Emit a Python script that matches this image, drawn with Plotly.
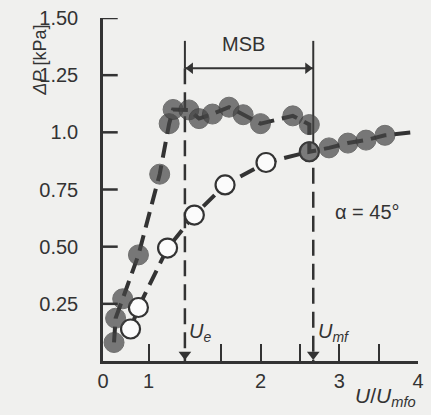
import plotly.graph_objects as go

# ---- data ----
filled_x = [0.14, 0.16, 0.25, 0.45, 0.72, 0.84, 0.89, 1.09, 1.22, 1.39, 1.60, 1.78, 2.00, 2.41, 2.62, 2.62, 2.87, 3.11, 3.34, 3.58, 3.93]
filled_y = [0.081, 0.187, 0.272, 0.464, 0.817, 1.038, 1.100, 1.098, 1.060, 1.080, 1.110, 1.077, 1.038, 1.072, 1.034, 0.915, 0.932, 0.953, 0.966, 0.987, 1.000]
filled_is_point = [True] * 20 + [False]   # last entry is only the dashed tail of the curve

open_x = [0.35, 0.45, 0.82, 1.16, 1.55, 2.07, 2.62]
open_y = [0.140, 0.234, 0.494, 0.638, 0.770, 0.868, 0.915]

U_E = 1.04      # U_e / U_mfo
U_MF = 2.67     # U_mf / U_mfo
MSB_TOP = 1.40
MSB_Y = 1.28

x_tick_vals = [0, 0.58, 2, 3, 4]
x_tick_text = ["0", "1", "2", "3", "4"]
x_minor_vals = [1.5, 2.5, 3.5]
y_tick_vals = [0.25, 0.5, 0.75, 1.0, 1.25, 1.5]
y_tick_text = ["0.25", "0.50", "0.75", "1.0", "1.25", "1.50"]

INK = "#333333"
DOT = "#454545"
BG = "#f0f0ee"
FONT = "Liberation Sans, Arial, sans-serif"
PLOT_W = 321  # px width of the plotting area (431 - 103 - 7)

fig = go.Figure()

fig.add_trace(go.Scatter(
    x=open_x, y=open_y, mode="lines+markers",
    line=dict(color=INK, width=4, dash="16px,8px"),
    marker=dict(size=19, color="#fbfbfb", line=dict(color=INK, width=2.2)),
    showlegend=False, cliponaxis=False))

fig.add_trace(go.Scatter(
    x=filled_x, y=filled_y, mode="lines+markers",
    line=dict(color=INK, width=4, dash="16px,8px"),
    marker=dict(size=[20 if p else 0 for p in filled_is_point], color=DOT,
                line=dict(color="#3a3a3a", width=1)),
    showlegend=False, cliponaxis=False))

# vertical reference lines
fig.add_shape(type="line", x0=U_E, x1=U_E, y0=MSB_Y, y1=0, layer="below",
              line=dict(color=INK, width=2.5, dash="16px,8px"))
fig.add_shape(type="line", x0=U_E, x1=U_E, y0=MSB_TOP, y1=MSB_Y, layer="below",
              line=dict(color=INK, width=2))
fig.add_shape(type="line", x0=U_MF, x1=U_MF, y0=MSB_TOP, y1=0.95, layer="below",
              line=dict(color=INK, width=2))
fig.add_shape(type="line", x0=U_MF, x1=U_MF, y0=0.95, y1=0, layer="below",
              line=dict(color=INK, width=2.5, dash="16px,8px"))
# MSB bracket line
fig.add_shape(type="line", x0=U_E, x1=U_MF, y0=MSB_Y, y1=MSB_Y, layer="below",
              line=dict(color=INK, width=2))

# inward-pointing y ticks (the axis's own ticks are kept transparent to push labels out)
for yv in y_tick_vals:
    fig.add_shape(type="line", xref="paper", yref="y", x0=0, x1=15 / PLOT_W,
                  y0=yv, y1=yv, line=dict(color=INK, width=2.5))

# arrow heads (down to axis, and both ends of the MSB bracket)
fig.add_trace(go.Scatter(
    x=[U_E, U_MF], y=[0.028, 0.028], mode="markers", hoverinfo="skip",
    marker=dict(symbol="triangle-down", size=11, color=INK),
    showlegend=False, cliponaxis=False))
fig.add_trace(go.Scatter(
    x=[U_E + 0.07, U_MF - 0.07], y=[MSB_Y, MSB_Y], mode="markers", hoverinfo="skip",
    marker=dict(symbol=["triangle-left", "triangle-right"], size=10, color=INK),
    showlegend=False, cliponaxis=False))

anns = []
anns.append(dict(x=1.78, y=1.385, xref="x", yref="y", text="MSB", showarrow=False,
                 font=dict(size=20, color=INK, family=FONT)))
anns.append(dict(x=3.36, y=0.65, xref="x", yref="y", text="α = 45°", showarrow=False,
                 font=dict(size=20, color=INK, family=FONT)))
anns.append(dict(x=1.07, y=0.125, xref="x", yref="y", text="<i>U<sub>e</sub></i>",
                 showarrow=False, xanchor="left",
                 font=dict(size=20, color=INK, family=FONT)))
anns.append(dict(x=2.70, y=0.125, xref="x", yref="y", text="<i>U<sub>mf</sub></i>",
                 showarrow=False, xanchor="left",
                 font=dict(size=20, color=INK, family=FONT)))
anns.append(dict(x=3.59, y=-0.105, xref="x", yref="paper", yanchor="middle",
                 text="<i>U</i>/<i>U<sub>mfo</sub></i>",
                 showarrow=False, font=dict(size=21, color=INK, family=FONT)))
anns.append(dict(x=-0.237, y=1.315, xref="paper", yref="y", text="<i>ΔP</i> [kPa]",
                 textangle=-90, showarrow=False,
                 font=dict(size=18, color=INK, family=FONT)))

fig.update_layout(
    width=431, height=415,
    margin=dict(l=103, r=7, t=9, b=54),
    paper_bgcolor=BG, plot_bgcolor=BG,
    annotations=anns,
    font=dict(family=FONT, color=INK, size=20),
    xaxis=dict(range=[0, 4], showline=True, linecolor=INK, linewidth=2.5,
               showgrid=False, zeroline=False, ticks="inside", ticklen=17,
               tickwidth=2, tickcolor=INK, tickvals=x_tick_vals, ticktext=x_tick_text,
               tickfont=dict(size=20, color=INK, family=FONT),
               minor=dict(tickvals=x_minor_vals, ticks="inside", ticklen=17,
                          tickwidth=2, tickcolor=INK)),
    yaxis=dict(range=[0, 1.5], showline=True, linecolor=INK, linewidth=2.5,
               showgrid=False, zeroline=False, ticks="outside", ticklen=18,
               tickwidth=1, tickcolor="rgba(0,0,0,0)", tickvals=y_tick_vals,
               ticktext=y_tick_text,
               ticklabeloverflow="allow",
               tickfont=dict(size=20, color=INK, family=FONT)),
)

fig.write_html("out.html", config={"displayModeBar": False},
               post_script="document.body.style.margin='0px';")
